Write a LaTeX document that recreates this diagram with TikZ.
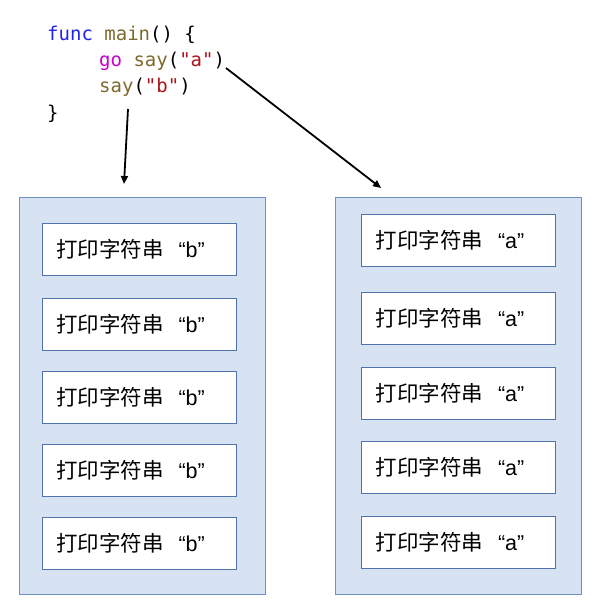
\documentclass[tikz,border=0pt]{standalone}
\usepackage{fontspec}
\setmainfont{Liberation Sans}
\newfontfamily\cjkfont{Noto Sans CJK SC}
\newfontfamily\latinfont{Liberation Sans}
\newfontfamily\codefont{DejaVu Sans Mono}
\usetikzlibrary{arrows.meta}
\definecolor{kwblue}{HTML}{2222EE}
\definecolor{fnolive}{HTML}{7D6A2E}
\definecolor{gomag}{HTML}{CC00CC}
\definecolor{strred}{HTML}{B0121B}
\definecolor{contfill}{HTML}{D7E2F3}
\definecolor{contline}{HTML}{7090C2}
\definecolor{boxline}{HTML}{5073AA}
\newcommand{\printtxt}[1]{{\cjkfont 打印字符串}\hspace{15pt}{\latinfont “#1”}}
\tikzset{
  codeline/.style={anchor=base west, inner sep=0pt, font=\codefont\fontsize{19}{22}\selectfont},
  container/.style={draw=contline, fill=contfill, line width=1.2pt},
  printbox/.style={draw=boxline, fill=white, line width=1pt, minimum width=194pt, minimum height=52pt, inner xsep=14pt, inner ysep=0pt, text width=166pt, align=left, font=\fontsize{21.5}{24}\selectfont},
  flow/.style={draw=black, line width=1.8pt, -{Triangle[length=8pt,width=7pt]}}
}
\begin{document}
\begin{tikzpicture}[x=1pt,y=-1pt]
\useasboundingbox (0,0) rectangle (591,607);
% code
\node[codeline] (l1) at (47,41) {\textcolor{kwblue}{func} \textcolor{fnolive}{main}() \{};
\node[codeline] (l2) at (99,67) {\textcolor{gomag}{go} \textcolor{fnolive}{say}(\textcolor{strred}{"a"})};
\node[codeline] (l3) at (99,93) {\textcolor{fnolive}{say}(\textcolor{strred}{"b"})};
\node[codeline] (l4) at (47,119) {\}};
% containers
\node[container, minimum width=246pt, minimum height=397pt, inner sep=0pt, anchor=north west] (left) at (19,197) {};
\node[container, minimum width=246pt, minimum height=397pt, inner sep=0pt, anchor=north west] (right) at (335,197) {};
% left boxes
\node[printbox] (b1) at (139,249.5) {\printtxt{b}};
\node[printbox] (b2) at (139,324.5) {\printtxt{b}};
\node[printbox] (b3) at (139,397.5) {\printtxt{b}};
\node[printbox] (b4) at (139,470) {\printtxt{b}};
\node[printbox] (b5) at (139,543.5) {\printtxt{b}};
% right boxes
\node[printbox] (a1) at (458.5,240) {\printtxt{a}};
\node[printbox] (a2) at (458.5,318) {\printtxt{a}};
\node[printbox] (a3) at (458.5,393) {\printtxt{a}};
\node[printbox] (a4) at (458.5,467) {\printtxt{a}};
\node[printbox] (a5) at (458.5,542) {\printtxt{a}};
% arrows
\coordinate (s1) at (128,109);
\coordinate (t1) at (124,184);
\coordinate (s2) at (226,68);
\coordinate (t2) at (381,188);
\draw[flow] (s1) -- (t1);
\draw[flow] (s2) -- (t2);
\end{tikzpicture}
\end{document}
